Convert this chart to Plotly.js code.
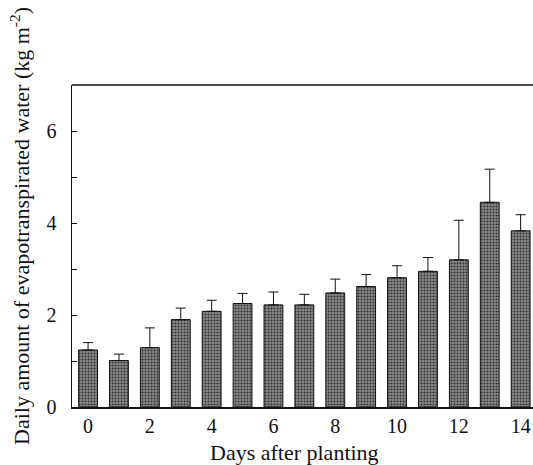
<!DOCTYPE html>
<html><head><meta charset="utf-8">
<script src="https://cdn.plot.ly/plotly-3.0.1.min.js"></script>
<style>body{margin:0;padding:0;background:#fff}#chart{width:533px;height:465px}</style>
</head><body><div id="chart"></div>
<script>
const days = [0,1,2,3,4,5,6,7,8,9,10,11,12,13,14];
const meanWater = [1.24,1.01,1.29,1.90,2.08,2.25,2.22,2.22,2.48,2.62,2.81,2.95,3.20,4.45,3.83];
const errWater = [0.16,0.14,0.43,0.25,0.24,0.22,0.28,0.23,0.30,0.26,0.26,0.30,0.86,0.72,0.35];
const xTicks = [0,2,4,6,8,10,12,14];
const yTicks = [0,2,4,6];
const xTitle = 'Days after planting';
const yTitle = 'Daily amount of evapotranspirated water (kg m<sup>-2</sup>)';

const trace = {
  type:'bar', x:days, y:meanWater, width:0.61,
  marker:{color:'#7a7a7a', line:{color:'#111', width:1},
    pattern:{shape:'.', fgcolor:'#333', bgcolor:'#8a8a8a', size:3, solidity:0.4}},
  error_y:{type:'data', symmetric:false, array:errWater, arrayminus:days.map(()=>0),
    color:'#111', thickness:1, width:5}
};
const fam = '"Liberation Serif", "Times New Roman", serif';
const tickFont = {family:fam, size:20, color:'#111'};
const layout = {
  width:533, height:465, margin:{l:72, r:0, t:85, b:58},
  paper_bgcolor:'#fff', plot_bgcolor:'#fff', showlegend:false, font:tickFont,
  xaxis:{range:[-0.52,14.4], tickvals:xTicks, ticks:'', showgrid:false, zeroline:false,
    showline:true, linecolor:'#111', linewidth:1.5, mirror:false, automargin:false, tickfont:tickFont},
  yaxis:{range:[0,7], tickvals:yTicks, ticks:'inside', ticklen:5, tickcolor:'#111', showgrid:false, zeroline:false,
    showline:true, linecolor:'#111', linewidth:1.5, automargin:false, ticklabelstandoff:10,
    minor:{tickvals:[1,3,5], ticks:'inside', ticklen:5, tickcolor:'#111'}, tickfont:tickFont},
  shapes:[{type:'line', xref:'paper', yref:'paper', x0:0, x1:1, y0:1, y1:1, line:{color:'#111', width:1.5}}],
  annotations:[
    {text:xTitle, xref:'paper', yref:'paper', x:(294-72)/461, y:-(452-407)/322, xanchor:'center', yanchor:'middle',
     showarrow:false, font:{family:fam, size:22, color:'#111'}},
    {text:yTitle, xref:'paper', yref:'paper', x:-(72-20)/461, y:(407-226)/322, xanchor:'center', yanchor:'middle',
     textangle:-90, showarrow:false, font:{family:fam, size:22, color:'#111'}}
  ]
};
Plotly.newPlot('chart',[trace],layout,{staticPlot:true});
</script></body></html>
